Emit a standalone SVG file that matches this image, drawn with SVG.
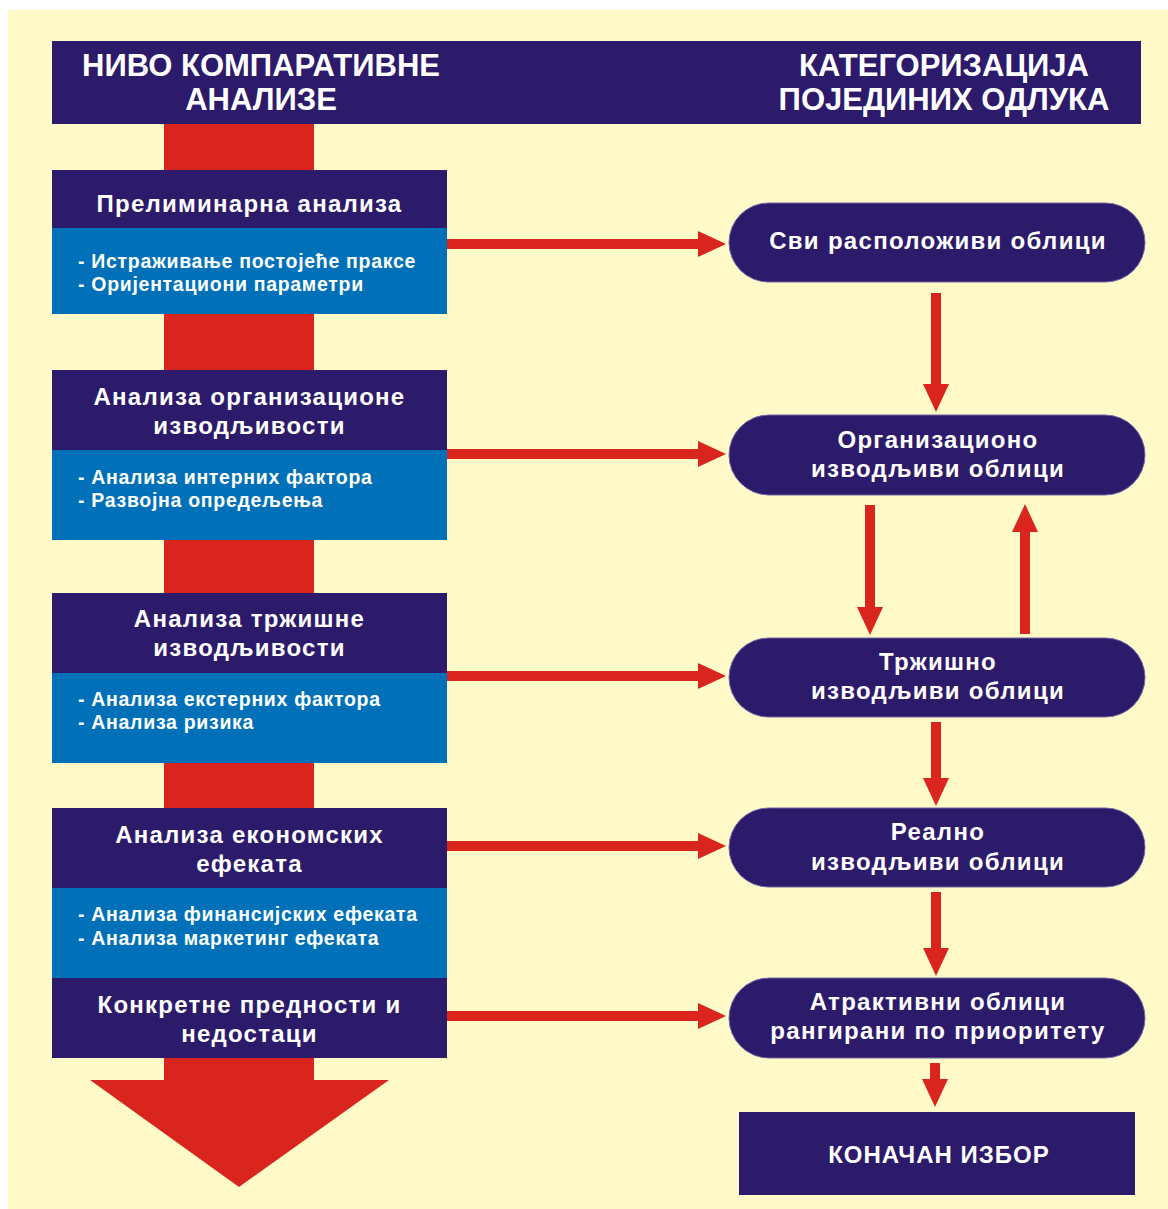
<svg xmlns="http://www.w3.org/2000/svg" width="1168" height="1209" viewBox="0 0 1168 1209">
  <style>
    .navy { fill: #2c1a6b; }
    .blue { fill: #0071b9; }
    .edge { stroke: #6f66a8; stroke-width: 1; }
    .red { fill: #d9251d; }
    text { fill: #ffffff; font-family: "Liberation Sans", Arial, sans-serif; font-weight: bold; }
    .head { font-size: 31px; text-anchor: middle; }
    .title { font-size: 24px; letter-spacing: 1.25px; text-anchor: middle; }
    .item { font-size: 19.5px; letter-spacing: 0.7px; }
    .pill { font-size: 24px; letter-spacing: 1.3px; text-anchor: middle; }
  </style>
  <defs>
    <!-- red arrowhead used by every connector -->
    <marker id="tip" viewBox="0 0 28 26" refX="0" refY="13" markerWidth="28" markerHeight="26" markerUnits="userSpaceOnUse" orient="auto">
      <path d="M0,0 L28,13 L0,26 Z" fill="#d9251d"/>
    </marker>
  </defs>

  <!-- page -->
  <rect x="0" y="0" width="1168" height="1209" fill="#ffffff"/>
  <rect x="8" y="10" width="1160" height="1199" fill="#fffac8"/>

  <!-- main downward arrow behind the analysis levels -->
  <g id="main-arrow">
    <rect class="red" x="164" y="124" width="150" height="957"/>
    <polygon class="red" points="90,1080 389,1080 239,1187"/>
  </g>

  <!-- column header -->
  <g id="header">
    <rect class="navy" x="52" y="41" width="1089" height="83"/>
    <text class="head" x="261" y="76">НИВО КОМПАРАТИВНЕ</text>
    <text class="head" x="261" y="110">АНАЛИЗЕ</text>
    <text class="head" x="944" y="76">КАТЕГОРИЗАЦИЈА</text>
    <text class="head" x="944" y="110">ПОЈЕДИНИХ ОДЛУКА</text>
  </g>

  <!-- analysis levels -->
  <g id="level-1">
    <rect class="navy" x="52" y="170" width="395" height="58"/>
    <rect class="blue" x="52" y="228" width="395" height="86"/>
    <text class="title" x="249.5" y="212">Прелиминарна анализа</text>
    <text class="item" x="78" y="268">- Истраживање постојеће праксе</text>
    <text class="item" x="78" y="291">- Оријентациони параметри</text>
  </g>
  <g id="level-2">
    <rect class="navy" x="52" y="370" width="395" height="80"/>
    <rect class="blue" x="52" y="450" width="395" height="90"/>
    <text class="title" x="249.5" y="405">Анализа организационе</text>
    <text class="title" x="249.5" y="434">изводљивости</text>
    <text class="item" x="78" y="484">- Анализа интерних фактора</text>
    <text class="item" x="78" y="507">- Развојна опредељења</text>
  </g>
  <g id="level-3">
    <rect class="navy" x="52" y="593" width="395" height="80"/>
    <rect class="blue" x="52" y="673" width="395" height="90"/>
    <text class="title" x="249.5" y="627">Анализа тржишне</text>
    <text class="title" x="249.5" y="656">изводљивости</text>
    <text class="item" x="78" y="706">- Анализа екстерних фактора</text>
    <text class="item" x="78" y="729">- Анализа ризика</text>
  </g>
  <g id="level-4">
    <rect class="navy" x="52" y="808" width="395" height="80"/>
    <rect class="blue" x="52" y="888" width="395" height="90"/>
    <text class="title" x="249.5" y="843">Анализа економских</text>
    <text class="title" x="249.5" y="872">ефеката</text>
    <text class="item" x="78" y="921">- Анализа финансијских ефеката</text>
    <text class="item" x="78" y="945">- Анализа маркетинг ефеката</text>
  </g>
  <g id="level-5">
    <rect class="navy" x="52" y="978" width="395" height="80"/>
    <text class="title" x="249.5" y="1013">Конкретне предности и</text>
    <text class="title" x="249.5" y="1042">недостаци</text>
  </g>

  <!-- decision categories -->
  <g id="cat-all">
    <rect class="navy edge" x="729" y="203" width="416" height="79" rx="39.5"/>
    <text class="pill" x="938" y="249">Сви расположиви облици</text>
  </g>
  <g id="cat-org">
    <rect class="navy edge" x="729" y="415" width="416" height="80" rx="40"/>
    <text class="pill" x="938" y="448">Организационо</text>
    <text class="pill" x="938" y="477">изводљиви облици</text>
  </g>
  <g id="cat-market">
    <rect class="navy edge" x="729" y="638" width="416" height="79" rx="39.5"/>
    <text class="pill" x="938" y="670">Тржишно</text>
    <text class="pill" x="938" y="699">изводљиви облици</text>
  </g>
  <g id="cat-real">
    <rect class="navy edge" x="729" y="808" width="416" height="79" rx="39.5"/>
    <text class="pill" x="938" y="840">Реално</text>
    <text class="pill" x="938" y="870">изводљиви облици</text>
  </g>
  <g id="cat-attractive">
    <rect class="navy edge" x="729" y="978" width="416" height="80" rx="40"/>
    <text class="pill" x="938" y="1010">Атрактивни облици</text>
    <text class="pill" x="938" y="1039">рангирани по приоритету</text>
  </g>
  <g id="final-choice">
    <rect class="navy" x="739" y="1112" width="396" height="83"/>
    <text class="pill" x="939" y="1163" style="letter-spacing:1px">КОНАЧАН ИЗБОР</text>
  </g>

  <!-- connectors -->
  <g id="connectors" stroke="#d9251d" stroke-width="10" fill="none" marker-end="url(#tip)">
    <line x1="447" y1="244" x2="698" y2="244"/>
    <line x1="447" y1="454" x2="698" y2="454"/>
    <line x1="447" y1="676" x2="698" y2="676"/>
    <line x1="447" y1="846" x2="698" y2="846"/>
    <line x1="447" y1="1016" x2="698" y2="1016"/>
    <line x1="936" y1="293" x2="936" y2="384"/>
    <line x1="870" y1="505" x2="870" y2="607"/>
    <line x1="1025" y1="634" x2="1025" y2="532"/>
    <line x1="936" y1="722" x2="936" y2="778"/>
    <line x1="936" y1="892" x2="936" y2="948"/>
    <line x1="935" y1="1063" x2="935" y2="1079"/>
  </g>
</svg>
